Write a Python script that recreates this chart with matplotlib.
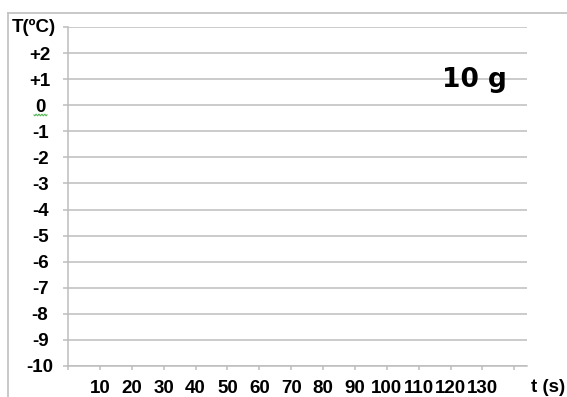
import matplotlib.pyplot as plt
from matplotlib.lines import Line2D
import numpy as np

# axis ranges and labels
y_ticks = list(range(-10, 4))
y_labels = ['-10', '-9', '-8', '-7', '-6', '-5', '-4', '-3', '-2', '-1', '0', '+1', '+2', '']
x_ticks = list(range(0, 150, 10))
x_labels = [''] + [str(v) for v in range(10, 140, 10)] + ['']
mass_label = '10 g'

grid_col = '#bdbdbd'

fig = plt.figure(figsize=(5.67, 3.97), dpi=100)
ax = fig.add_axes([68 / 567, 1 - 366 / 397, (527 - 68) / 567, (366 - 27) / 397])

ax.set_xlim(0, 144)
ax.set_ylim(-10, 3)
ax.set_yticks(y_ticks)
ax.set_yticklabels(y_labels)
ax.set_xticks(x_ticks)
ax.set_xticklabels(x_labels)

for s in ['top', 'right']:
    ax.spines[s].set_visible(False)
for s in ['left', 'bottom']:
    ax.spines[s].set_color(grid_col)
    ax.spines[s].set_linewidth(1.1)

ax.grid(axis='y', color=grid_col, linewidth=1.1)
ax.set_axisbelow(True)

lab_font = dict(family='Liberation Sans', weight='bold', size=13.5)
ax.tick_params(axis='y', length=3.6, width=1.1, color=grid_col, pad=16.5)
ax.tick_params(axis='x', length=3, width=1.1, color=grid_col, pad=7)
for t in ax.get_yticklabels():
    t.set_fontproperties(lab_font)
    t.set_horizontalalignment('center')
for t in ax.get_xticklabels():
    t.set_fontproperties(lab_font)

# axis titles
fig.text(34 / 567, 1 - 27 / 397, 'T(ºC)', ha='center', va='center', **lab_font)
fig.text(548 / 567, 1 - 388 / 397, 't (s)', ha='center', va='center', **lab_font)

# sample mass
ax.text(0.885, 0.845, mass_label, transform=ax.transAxes, ha='center', va='center',
        family='DejaVu Sans', weight='bold', fontsize=19)

# outer frame (top and left edges)
fig.add_artist(Line2D([8 / 567, 1], [1 - 13 / 397] * 2, color='#c4c4c4', lw=1.3))
fig.add_artist(Line2D([8 / 567] * 2, [0, 1 - 13 / 397], color='#c4c4c4', lw=1.3))

# green wavy underline under the zero label
wx = np.linspace(34, 47, 40)
wy = 115 + 0.8 * np.sin((wx - 34) * 2.2)
fig.add_artist(Line2D(wx / 567, 1 - wy / 397, color='#5cb85c', lw=0.8))

fig.savefig('out.png', dpi=100)
